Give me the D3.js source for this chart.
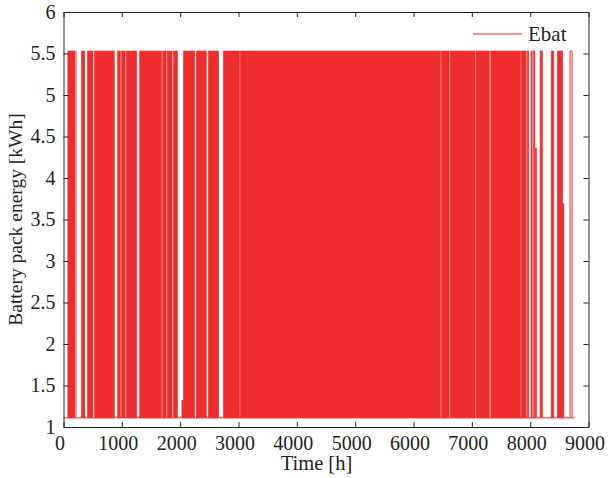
<!DOCTYPE html>
<html>
<head>
<meta charset="utf-8">
<script src="https://cdn.jsdelivr.net/npm/d3@7"></script>
<style>
  body { margin: 0; background: #fff; }
  svg text { font-family: "Liberation Serif", "Times New Roman", serif; fill: #222; }
</style>
</head>
<body>
<svg id="chart" width="609" height="478"></svg>
<script>
// battery levels (kWh)
const lowLevel = 1.11;
const highLevel = 5.53;
const yearEnd = 8760;

// periods of hourly full charge/discharge cycling [start h, end h]
const denseBlocks = [
  [75, 200], [308, 365], [411, 505], [534, 870], [928, 975], [995, 1057],
  [1077, 1254], [1305, 1680], [1700, 1760], [1777, 1862], [1885, 1955],
  [2057, 2250], [2276, 2448], [2485, 2660], [2742, 3016], [3030, 6462],
  [6478, 6612], [6630, 7058], [7075, 7300], [7325, 7835], [7849, 7932],
  [7952, 7975], [8015, 8035], [8060, 8080], [8170, 8210], [8360, 8405],
  [8466, 8557]
];
// short periods that never reach full charge [start h, end h, peak kWh]
const partialBlocks = [[2030, 2058, 1.32], [8090, 8108, 4.36], [8557, 8578, 3.69]];
// single full spikes (h)
const spikes = [222];
// battery held full [start h, end h]
const plateaus = [[8684, 8718]];

const xTicks = [0, 1000, 2000, 3000, 4000, 5000, 6000, 7000, 8000, 9000];
const yTicks = [1, 1.5, 2, 2.5, 3, 3.5, 4, 4.5, 5, 5.5, 6];
const red = "#ee2e2e";

const svg = d3.select("#chart");
const m = { left: 63.5, right: 20.5, top: 12, bottom: 51 };
const W = 609 - m.left - m.right, H = 478 - m.top - m.bottom;

const x = d3.scaleLinear().domain([0, 9000]).range([m.left, m.left + W]);
const y = d3.scaleLinear().domain([1, 6]).range([m.top + H, m.top]);

const plot = svg.append("g");

// baseline (empty battery)
plot.append("line")
  .attr("x1", x(0)).attr("x2", x(yearEnd))
  .attr("y1", y(lowLevel)).attr("y2", y(lowLevel))
  .attr("stroke", red).attr("stroke-width", 1);

// dense cycling blocks
plot.selectAll("rect.dense").data(denseBlocks).join("rect")
  .attr("class", "dense")
  .attr("x", d => x(d[0]))
  .attr("width", d => Math.max(0.5, x(d[1]) - x(d[0])))
  .attr("y", y(highLevel))
  .attr("height", y(lowLevel) - y(highLevel))
  .attr("fill", red)
  .attr("stroke", red).attr("stroke-width", 0.6);

plot.selectAll("rect.partial").data(partialBlocks).join("rect")
  .attr("class", "partial")
  .attr("x", d => x(d[0]))
  .attr("width", d => x(d[1]) - x(d[0]))
  .attr("y", d => y(d[2]))
  .attr("height", d => y(lowLevel) - y(d[2]))
  .attr("fill", red)
  .attr("stroke", red).attr("stroke-width", 0.6);

plot.selectAll("line.spike").data(spikes).join("line")
  .attr("class", "spike")
  .attr("x1", d => x(d)).attr("x2", d => x(d))
  .attr("y1", y(lowLevel)).attr("y2", y(highLevel))
  .attr("stroke", red).attr("stroke-width", 0.8).attr("stroke-opacity", 0.6);

const line = d3.line().x(d => x(d[0])).y(d => y(d[1]));
plot.selectAll("path.plateau").data(plateaus).join("path")
  .attr("class", "plateau")
  .attr("d", d => line([[d[0], lowLevel], [d[0], highLevel], [d[1], highLevel], [d[1], lowLevel]]))
  .attr("fill", "none")
  .attr("stroke", red).attr("stroke-width", 1);

// axes with inward ticks on all sides
const axG = svg.append("g");
const axBottom = axG.append("g").attr("transform", `translate(0,${m.top + H})`)
  .call(d3.axisBottom(x).tickValues(xTicks).tickSizeInner(-5).tickSizeOuter(0).tickPadding(9).tickFormat(d3.format("d")));
axG.append("g").attr("transform", `translate(0,${m.top})`)
  .call(d3.axisTop(x).tickValues(xTicks).tickSizeInner(-5).tickSizeOuter(0).tickFormat(""));
axG.append("g").attr("transform", `translate(${m.left},0)`)
  .call(d3.axisLeft(y).tickValues(yTicks).tickSizeInner(-5).tickSizeOuter(0).tickPadding(8).tickFormat(d3.format("")));
axG.append("g").attr("transform", `translate(${m.left + W},0)`)
  .call(d3.axisRight(y).tickValues(yTicks).tickSizeInner(-5).tickSizeOuter(0).tickFormat(""));

axG.selectAll(".domain").attr("stroke", "#222").attr("stroke-width", 1);
axG.selectAll(".tick line").attr("stroke", "#222").attr("stroke-width", 1);
axG.selectAll(".tick text").attr("font-family", "Liberation Serif").attr("font-size", 20).attr("fill", "#222");
axBottom.selectAll(".tick text").attr("dx", -4);

// axis labels
svg.append("text")
  .attr("x", m.left + W / 2 - 9.5).attr("y", 470)
  .attr("text-anchor", "middle").attr("font-size", 20.5)
  .text("Time [h]");
svg.append("text")
  .attr("transform", `translate(22,${m.top + H / 2}) rotate(-90)`)
  .attr("text-anchor", "middle").attr("font-size", 19.5)
  .text("Battery pack energy [kWh]");

// legend
const lg = svg.append("g");
lg.append("line")
  .attr("x1", 473).attr("x2", 522).attr("y1", 34).attr("y2", 34)
  .attr("stroke", red).attr("stroke-width", 1.2);
lg.append("text")
  .attr("x", 528).attr("y", 40.5)
  .attr("font-size", 21)
  .text("Ebat");
</script>
</body>
</html>
